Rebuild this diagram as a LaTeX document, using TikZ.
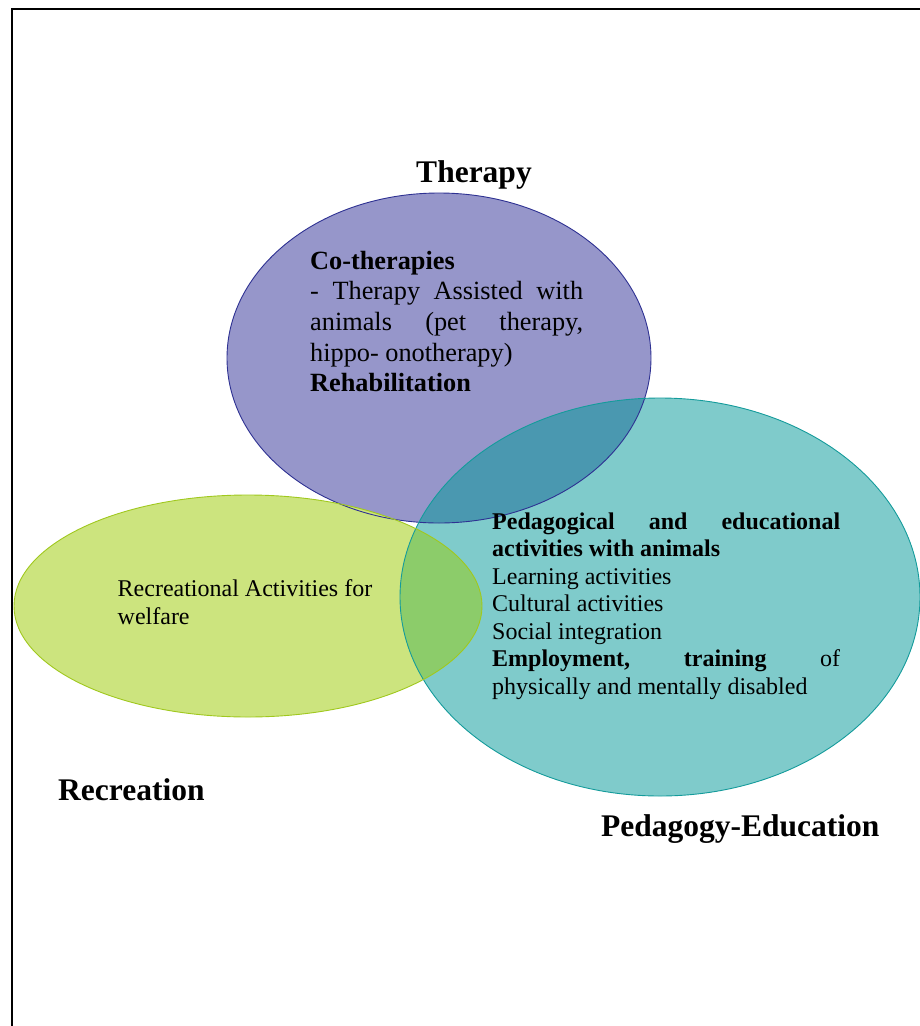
\documentclass[tikz,border=0pt]{standalone}
\usepackage{fontspec}
\setmainfont{Liberation Serif}
\definecolor{purpleF}{RGB}{150,150,202}
\definecolor{purpleD}{RGB}{46,49,146}
\definecolor{tealF}{RGB}{127,203,203}
\definecolor{tealD}{RGB}{20,155,155}
\definecolor{greenF}{RGB}{204,228,126}
\definecolor{greenD}{RGB}{160,200,30}
\definecolor{ptF}{RGB}{74,152,176}
\definecolor{gtF}{RGB}{140,204,106}
\begin{document}
\begin{tikzpicture}[x=1pt,y=-1pt,
  lab/.style={inner sep=0pt, font=\bfseries\fontsize{31.5}{36}\selectfont},
  blk/.style={inner sep=0pt, anchor=base west},
  edge/.style={line width=0.9pt}]
\useasboundingbox (0,0) rectangle (920,1026);
\clip (0,0) rectangle (920,1026);
\draw[line width=2.4pt] (12,9) rectangle (945,1050);
\coordinate (pc) at (439,358);
\coordinate (tc) at (660,597);
\coordinate (gc) at (248,606);
% fills
\fill[purpleF] (pc) ellipse [x radius=212, y radius=165];
\fill[tealF] (tc) ellipse [x radius=260, y radius=199];
\fill[greenF] (gc) ellipse [x radius=234, y radius=111];
% overlaps
\begin{scope}
  \clip (pc) ellipse [x radius=212, y radius=165];
  \fill[ptF] (tc) ellipse [x radius=260, y radius=199];
\end{scope}
\begin{scope}
  \clip (gc) ellipse [x radius=234, y radius=111];
  \fill[gtF] (tc) ellipse [x radius=260, y radius=199];
\end{scope}
% borders
\draw[edge, purpleD] (pc) ellipse [x radius=212, y radius=165];
\draw[edge, tealD] (tc) ellipse [x radius=260, y radius=199];
\draw[edge, greenD] (gc) ellipse [x radius=234, y radius=111];
% texts
\node[blk, font=\fontsize{26.3}{30.7}\selectfont] (thertext) at (310,269) {\vtop{\hsize=273pt
  \hbox{\textbf{Co-therapies}}
  \hbox to 273pt{-\hfill Therapy\hfill Assisted\hfill with}
  \hbox to 273pt{animals\hfill (pet\hfill therapy,}
  \hbox{hippo- onotherapy)}
  \hbox{\textbf{Rehabilitation}}}};
\node[blk, font=\fontsize{24}{27.5}\selectfont] (pedtext) at (492,529.3) {\vtop{\hsize=348pt
  \hbox to 348pt{\textbf{Pedagogical}\hfill\textbf{and}\hfill\textbf{educational}}
  \hbox{\textbf{activities with animals}}
  \hbox{Learning activities}
  \hbox{Cultural activities}
  \hbox{Social integration}
  \hbox to 348pt{\textbf{Employment,}\hfill\textbf{training}\hfill of}
  \hbox{physically and mentally disabled}}};
\node[blk, font=\fontsize{24}{28.3}\selectfont] (rectext) at (117.5,596) {\vtop{\hsize=270pt
  \hbox{Recreational Activities for}
  \hbox{welfare}}};
% labels
\node[lab, anchor=base] (therapy) at (474,182.5) {Therapy};
\node[lab, anchor=base west] (recreation) at (58,800) {Recreation};
\node[lab, anchor=base west] (pedagogy) at (601,836) {Pedagogy-Education};
\end{tikzpicture}
\end{document}
